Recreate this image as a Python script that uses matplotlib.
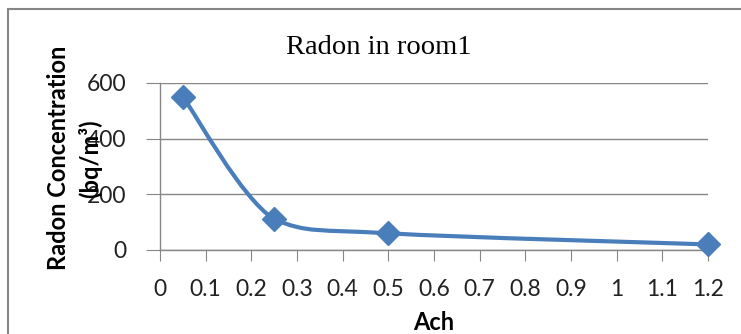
import matplotlib
matplotlib.use("Agg")
import matplotlib.pyplot as plt
from matplotlib.path import Path
from matplotlib.patches import PathPatch, Rectangle

ach = [0.05, 0.25, 0.5, 1.2]
radon = [550, 110, 60, 20]
x_ticks = [0, 0.1, 0.2, 0.3, 0.4, 0.5, 0.6, 0.7, 0.8, 0.9, 1, 1.1, 1.2]
x_tick_labels = ["0", "0.1", "0.2", "0.3", "0.4", "0.5", "0.6", "0.7", "0.8", "0.9", "1", "1.1", "1.2"]
y_ticks = [0, 200, 400, 600]

BLUE = "#4A7EBB"
GRAY = "#868686"
SANS = ["Lato", "DejaVu Sans"]


def smooth_path(xs, ys):
    # Catmull-Rom style bezier, control points kept inside each segment's y range
    pts = list(zip(xs, ys))
    verts = [pts[0]]
    codes = [Path.MOVETO]
    n = len(pts)
    for i in range(n - 1):
        p0 = pts[i - 1] if i > 0 else pts[i]
        p1 = pts[i]
        p2 = pts[i + 1]
        p3 = pts[i + 2] if i + 2 < n else pts[i + 1]
        lo, hi = min(p1[1], p2[1]), max(p1[1], p2[1])
        c1 = (p1[0] + (p2[0] - p0[0]) / 6,
              min(max(p1[1] + (p2[1] - p0[1]) / 6, lo), hi))
        c2 = (p2[0] - (p3[0] - p1[0]) / 6,
              min(max(p2[1] - (p3[1] - p1[1]) / 6, lo), hi))
        verts += [c1, c2, p2]
        codes += [Path.CURVE4] * 3
    return Path(verts, codes)


fig = plt.figure(figsize=(7.41, 3.34), dpi=100)
fig.patches.append(Rectangle((8 / 741, -0.1), 1.2, (1 - 9 / 334) + 0.1,
                             transform=fig.transFigure, fill=False,
                             edgecolor=GRAY, linewidth=1.5))

ax = fig.add_axes([160 / 741, 1 - 250 / 334, 548 / 741, 167 / 334])
ax.set_xlim(0, 1.2)
ax.set_ylim(0, 600)

ax.add_patch(PathPatch(smooth_path(ach, radon), fill=False, edgecolor=BLUE,
                       linewidth=3, capstyle="round", joinstyle="round", zorder=3))
ax.plot(ach, radon, linestyle="none", marker="D", markersize=12.5,
        color=BLUE, zorder=4, clip_on=False)

ax.set_yticks(y_ticks)
ax.set_xticks(x_ticks)
ax.set_xticklabels(x_tick_labels)
ax.grid(axis="y", color=GRAY, linewidth=1)
ax.set_axisbelow(True)
for side in ["top", "right"]:
    ax.spines[side].set_visible(False)
for side in ["left", "bottom"]:
    ax.spines[side].set_color(GRAY)
    ax.spines[side].set_linewidth(1)
ax.tick_params(axis="y", length=10, color=GRAY, pad=14, labelsize=16.5)
ax.tick_params(axis="x", length=8, color=GRAY, pad=13, labelsize=16.5)
for lab in ax.get_xticklabels() + ax.get_yticklabels():
    lab.set_family(SANS)
    lab.set_color("#222222")

fig.text(379 / 741, 1 - 48 / 334, "Radon in room1", family="Liberation Serif",
         fontsize=20.5, ha="center", va="center")
fig.text(58 / 741, 1 - 158 / 334, "Radon Concentration", family=SANS,
         fontweight="bold", fontsize=17, rotation=90, ha="center", va="center")
fig.text(90 / 741, 1 - 159 / 334, "(bq/m³)", family=SANS,
         fontweight="bold", fontsize=17, rotation=90, ha="center", va="center")
fig.text(434 / 741, 1 - 322 / 334, "Ach", family=SANS,
         fontweight="bold", fontsize=17, ha="center", va="center")

fig.savefig("out.png", dpi=100)
